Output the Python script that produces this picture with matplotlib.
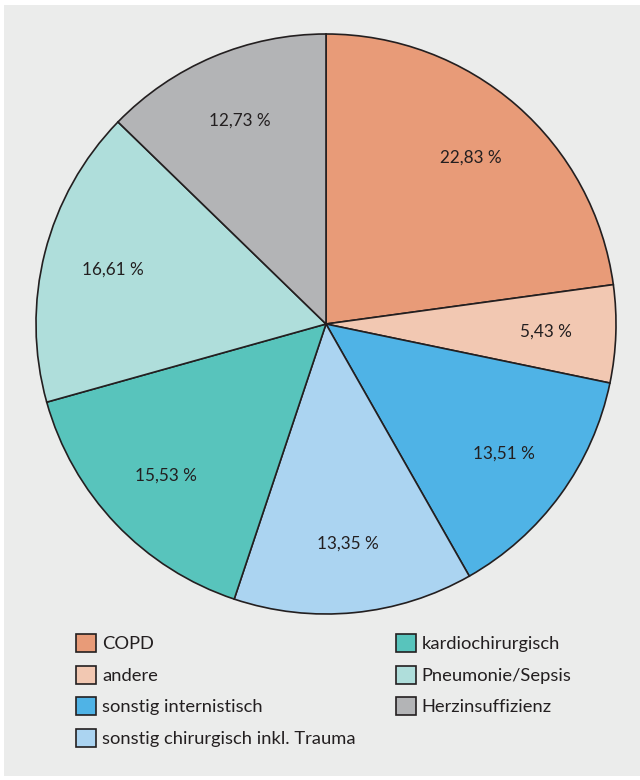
import matplotlib
matplotlib.use("Agg")
import matplotlib.pyplot as plt
from matplotlib.patches import Rectangle, Patch

categories = ["COPD", "andere", "sonstig internistisch",
              "sonstig chirurgisch inkl. Trauma", "kardiochirurgisch",
              "Pneumonie/Sepsis", "Herzinsuffizienz"]
values = [22.83, 5.43, 13.51, 13.35, 15.53, 16.61, 12.73]
value_labels = ["22,83 %", "5,43 %", "13,51 %", "13,35 %", "15,53 %", "16,61 %", "12,73 %"]
colors = ["#E89B78", "#F2C8B2", "#4FB3E6", "#ABD4F1", "#58C4BC", "#AFDEDB", "#B3B4B6"]

W, H = 640, 780
fig = plt.figure(figsize=(W / 100, H / 100), dpi=100)
fig.patch.set_facecolor("white")
bg = Rectangle((4 / W, 1 - 776 / H), (W - 4) / W, (776 - 5) / H,
               transform=fig.transFigure, facecolor="#EBECEB",
               edgecolor="none", zorder=-10)
fig.add_artist(bg)

font = ["Lato", "DejaVu Sans"]
plt.rcParams["font.family"] = font

cx, cy, r = 326, 324, 290
ax = fig.add_axes([(cx - r) / W, 1 - (cy + r) / H, 2 * r / W, 2 * r / H])
ax.set_facecolor("none")
ax.set_zorder(1)
wedges, texts = ax.pie(values, colors=colors, startangle=90, counterclock=False,
                       wedgeprops=dict(edgecolor="#231F20", linewidth=1.2),
                       labels=value_labels, labeldistance=0.76,
                       textprops=dict(fontsize=12.3, color="#231F20",
                                      ha="center", va="center"))
for t in texts:
    t.set_horizontalalignment("center")
ax.set_xlim(-1, 1)
ax.set_ylim(-1, 1)
ax.set_aspect("equal")
ax.axis("off")

handles = [Patch(facecolor=c, edgecolor="#231F20", linewidth=1.2) for c in colors]
leg = fig.legend(handles, categories, loc="upper left",
                 bbox_to_anchor=(76 / W, 1 - 634 / H), ncol=2,
                 frameon=False, fontsize=13.2, handlelength=1.09, handleheight=1.15,
                 handletextpad=0.33, labelspacing=0.72, columnspacing=2.18,
                 borderaxespad=0, borderpad=0)
leg.set_zorder(2)
for t in leg.get_texts():
    t.set_color("#231F20")

fig.savefig("out.png", dpi=100, facecolor="white")
